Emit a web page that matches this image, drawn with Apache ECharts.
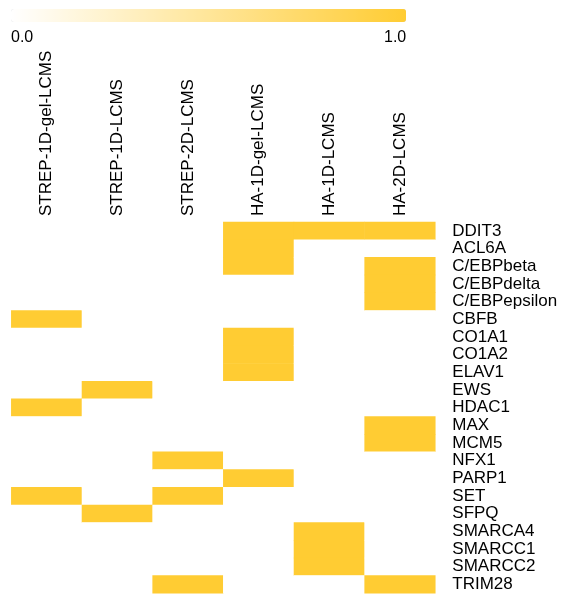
<!DOCTYPE html>
<html>
<head>
<meta charset="utf-8">
<script src="https://cdn.jsdelivr.net/npm/echarts@6/dist/echarts.min.js"></script>
<style>html,body{margin:0;padding:0;background:#fff;}#c{width:561px;height:598px;}</style>
</head>
<body>
<div id="c"></div>
<script>
const columns = ['STREP-1D-gel-LCMS','STREP-1D-LCMS','STREP-2D-LCMS','HA-1D-gel-LCMS','HA-1D-LCMS','HA-2D-LCMS'];
const genes = ['DDIT3','ACL6A','C/EBPbeta','C/EBPdelta','C/EBPepsilon','CBFB','CO1A1','CO1A2','ELAV1','EWS','HDAC1','MAX','MCM5','NFX1','PARP1','SET','SFPQ','SMARCA4','SMARCC1','SMARCC2','TRIM28'];
// rows follow genes, columns follow columns
const strep1DGel = [0,0,0,0,0,1,0,0,0,0,1,0,0,0,0,1,0,0,0,0,0];
const strep1D    = [0,0,0,0,0,0,0,0,0,1,0,0,0,0,0,0,1,0,0,0,0];
const strep2D    = [0,0,0,0,0,0,0,0,0,0,0,0,0,1,0,1,0,0,0,0,1];
const ha1DGel    = [1,1,1,0,0,0,1,1,1,0,0,0,0,0,1,0,0,0,0,0,0];
const ha1D       = [1,0,0,0,0,0,0,0,0,0,0,0,0,0,0,0,0,1,1,1,0];
const ha2D       = [1,0,1,1,1,0,0,0,0,0,0,1,1,0,0,0,0,0,0,0,1];
const scaleLabels = ['0.0','1.0'];

const cols = [strep1DGel, strep1D, strep2D, ha1DGel, ha1D, ha2D];
const data = [];
cols.forEach((col, ci) => col.forEach((v, ri) => data.push([ci, ri, v])));

const chart = echarts.init(document.getElementById('c'), null, {renderer: 'canvas'});
const font = '"Liberation Sans", Arial, sans-serif';
chart.setOption({
  animation: false,
  backgroundColor: '#fff',
  grid: {left: 11.3, right: 125.7, top: 222, bottom: 4.7, containLabel: false},
  xAxis: {
    type: 'category', position: 'top', data: columns,
    axisLine: {show: false}, axisTick: {show: false}, splitLine: {show: false},
    axisLabel: {rotate: -90, margin: 6, fontSize: 17, color: '#000', fontFamily: font, interval: 0}
  },
  yAxis: {
    type: 'category', position: 'right', inverse: true, data: genes,
    axisLine: {show: false}, axisTick: {show: false}, splitLine: {show: false},
    axisLabel: {margin: 17, fontSize: 17, color: '#000', fontFamily: font, interval: 0, align: 'left'}
  },
  visualMap: {
    type: 'continuous', min: 0, max: 1, orient: 'horizontal',
    left: 11, top: 9, padding: 0, itemWidth: 13, itemHeight: 395,
    calculable: false, showLabel: false, itemGap: 0,
    inRange: {color: ['#FFFFFF', '#FFCC33']}
  },
  graphic: [
    {type: 'text', left: 11, top: 30, style: {text: scaleLabels[0], font: '16px ' + font, fill: '#000'}},
    {type: 'text', left: 384, top: 30, style: {text: scaleLabels[1], font: '16px ' + font, fill: '#000'}}
  ],
  series: [{
    type: 'heatmap', data: data,
    itemStyle: {borderWidth: 0},
    emphasis: {disabled: true}
  }]
});
</script>
</body>
</html>
